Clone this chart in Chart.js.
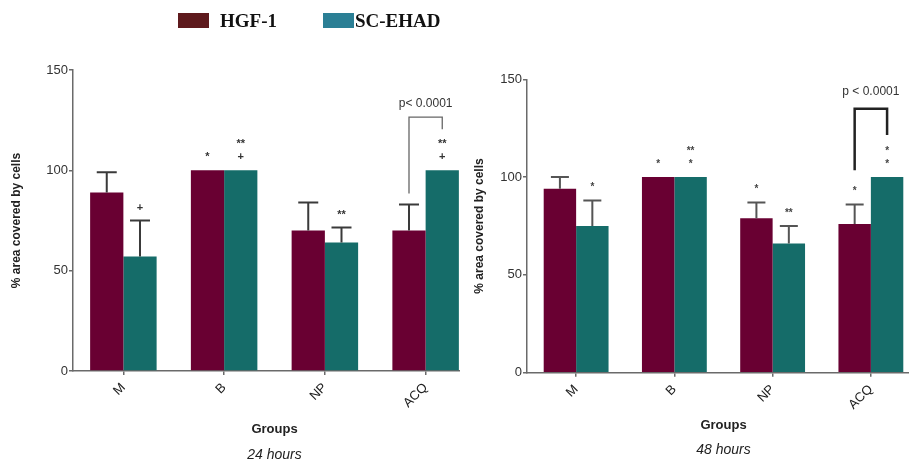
<!DOCTYPE html>
<html>
<head>
<meta charset="utf-8">
<script src="https://cdn.jsdelivr.net/npm/chart.js@4"></script>
<style>
  body { margin: 0; width: 909px; height: 465px; overflow: hidden; background: #fff; position: relative; }
  .panel { position: absolute; top: 0; height: 465px; overflow: hidden; }
  #left { left: 0; width: 460px; }
  #right { left: 460px; width: 449px; }
  #legend { position: absolute; top: 0; left: 0; width: 909px; height: 40px; z-index: 2; font: bold 19px/19px "Liberation Serif", "Times New Roman", serif; color: #111; }
  .box { position: absolute; top: 13px; width: 31px; height: 15px; }
  .lbl { position: absolute; top: 11px; }
</style>
</head>
<body>
<div id="legend"></div>
<div class="panel" id="left"><canvas id="chart24" width="476" height="465"></canvas></div>
<div class="panel" id="right"><canvas id="chart48" width="460" height="465"></canvas></div>
<script>
// データ
const groups = ['M', 'B', 'NP', 'ACQ'];
const seriesNames = ['HGF-1', 'SC-EHAD'];

const hgf24 = [89, 100, 70, 70];
const hgf24Err = [10, 0, 14, 13];
const sc24 = [57, 100, 64, 100];
const sc24Err = [18, 0, 7.5, 0];
const hgf24Marks = [[], ['*'], [], []];
const sc24Marks = [['+'], ['**', '+'], ['**'], ['**', '+']];
const sig24 = { category: 'ACQ', label: 'p< 0.0001', top: 126.5, legs: [88.5, 120.5] };

const hgf48 = [94, 100, 79, 76];
const hgf48Err = [6, 0, 8, 10];
const sc48 = [75, 100, 66, 100];
const sc48Err = [13, 0, 9, 0];
const hgf48Marks = [[], ['*'], ['*'], ['*']];
const sc48Marks = [['*'], ['**', '*'], ['**'], ['*', '*']];
const sig48 = { category: 'ACQ', label: 'p < 0.0001', top: 135, legs: [103.5, 121.5] };

const yTicks = [0, 50, 100, 150];

const barColors = ['#690032', '#156c69'];
const legendColors = ['#5e1a1d', '#2b7f95'];

// 凡例
const legend = document.getElementById('legend');
const legendPos = [[178, 220], [323, 355]];
seriesNames.forEach((name, i) => {
    const box = document.createElement('div');
    box.className = 'box';
    box.style.left = legendPos[i][0] + 'px';
    box.style.background = legendColors[i];
    legend.appendChild(box);
    const lbl = document.createElement('div');
    lbl.className = 'lbl';
    lbl.style.left = legendPos[i][1] + 'px';
    lbl.textContent = name;
    legend.appendChild(lbl);
});

// エラーバー・有意差マーク・ブラケット・時間ラベル
function extrasPlugin(errs, marks, sig, hours, look) {
    return {
        id: 'extras',
        afterDatasetsDraw(chart) {
            const ctx = chart.ctx;
            const y = chart.scales.y;
            ctx.save();
            chart.data.datasets.forEach((ds, d) => {
                chart.getDatasetMeta(d).data.forEach((bar, i) => {
                    let top = bar.y;
                    if (errs[d][i] > 0) {
                        const ey = y.getPixelForValue(ds.data[i] + errs[d][i]);
                        ctx.strokeStyle = look.errColor;
                        ctx.lineWidth = 2;
                        ctx.beginPath();
                        ctx.moveTo(bar.x, bar.y);
                        ctx.lineTo(bar.x, ey);
                        ctx.moveTo(bar.x - look.cap, ey);
                        ctx.lineTo(bar.x + look.cap, ey);
                        ctx.stroke();
                        top = ey;
                    }
                    ctx.fillStyle = look.markColor;
                    ctx.font = look.markFont;
                    ctx.textAlign = 'center';
                    ctx.textBaseline = 'middle';
                    const lines = marks[d][i];
                    lines.forEach((t, k) => {
                        ctx.fillText(t, bar.x, top - 13 - (lines.length - 1 - k) * 13);
                    });
                });
            });

            const ci = chart.data.labels.indexOf(sig.category);
            const b0 = chart.getDatasetMeta(0).data[ci];
            const b1 = chart.getDatasetMeta(1).data[ci];
            const yt = y.getPixelForValue(sig.top);
            ctx.strokeStyle = look.bracketColor;
            ctx.lineWidth = look.bracketWidth;
            ctx.beginPath();
            ctx.moveTo(b0.x, y.getPixelForValue(sig.legs[0]));
            ctx.lineTo(b0.x, yt);
            ctx.lineTo(b1.x, yt);
            ctx.lineTo(b1.x, y.getPixelForValue(sig.legs[1]));
            ctx.stroke();
            ctx.fillStyle = '#333';
            ctx.font = '12px "Liberation Sans", Arial, sans-serif';
            ctx.fillText(sig.label, (b0.x + b1.x) / 2, yt - look.labelGap);

            // 時間ラベル（プロット領域の中央）
            const area = chart.chartArea;
            ctx.fillStyle = '#222';
            ctx.font = 'italic 14px "Liberation Sans", Arial, sans-serif';
            ctx.fillText(hours, (area.left + area.right) / 2, look.hoursY);
            ctx.restore();
        }
    };
}

function makeChart(id, hgf, hgfErr, sc, scErr, hgfMarks, scMarks, sig, hours, look) {
    const ctx = document.getElementById(id).getContext('2d');
    const axisFont = { family: '"Liberation Sans", Arial, sans-serif', size: 13 };
    return new Chart(ctx, {
        type: 'bar',
        data: {
            labels: groups,
            datasets: [
                { label: seriesNames[0], data: hgf, backgroundColor: barColors[0], categoryPercentage: 0.66, barPercentage: 1 },
                { label: seriesNames[1], data: sc, backgroundColor: barColors[1], categoryPercentage: 0.66, barPercentage: 1 }
            ]
        },
        options: {
            responsive: false,
            animation: false,
            layout: { padding: { top: look.top, left: 0, right: 0, bottom: 0 } },
            plugins: {
                legend: { display: false },
                tooltip: { enabled: false }
            },
            scales: {
                x: {
                    grid: { drawOnChartArea: false, offset: false, tickLength: 4, color: look.axisColor, lineWidth: 1.5 },
                    border: { color: look.axisColor, width: 1.5 },
                    ticks: { minRotation: 45, maxRotation: 45, padding: 5, color: '#222', font: axisFont },
                    title: {
                        display: true,
                        text: 'Groups',
                        color: '#222',
                        font: { family: axisFont.family, size: 13, weight: 'bold' },
                        padding: { top: 0, bottom: look.groupsPad }
                    },
                    afterFit: (scale) => { scale.height = look.xHeight; }
                },
                y: {
                    min: 0,
                    max: 150,
                    afterBuildTicks: (scale) => { scale.ticks = yTicks.map(v => ({ value: v })); },
                    grid: { drawOnChartArea: false, tickLength: 4, color: look.axisColor, lineWidth: 1.5 },
                    border: { color: look.axisColor, width: 1.5 },
                    ticks: { padding: 1, color: '#333', font: axisFont },
                    title: {
                        display: true,
                        text: '% area covered by cells',
                        color: '#222',
                        font: { family: axisFont.family, size: 12, weight: 'bold' },
                        padding: { top: look.yTitlePad, bottom: 0 }
                    },
                    afterFit: (scale) => { scale.width = look.yWidth; }
                }
            }
        },
        plugins: [extrasPlugin([hgfErr, scErr], [hgfMarks, scMarks], sig, hours, look)]
    });
}

makeChart('chart24', hgf24, hgf24Err, sc24, sc24Err, hgf24Marks, sc24Marks, sig24, '24 hours', {
    top: 70, yWidth: 73, xHeight: 94, groupsPad: 28.2, yTitlePad: 9.8, hoursY: 455,
    axisColor: '#6a6a6a', errColor: '#3a3a3a', cap: 10, markColor: '#333',
    markFont: 'bold 11px "Liberation Sans", Arial, sans-serif',
    bracketColor: '#666', bracketWidth: 1.3, labelGap: 13
});

makeChart('chart48', hgf48, hgf48Err, sc48, sc48Err, hgf48Marks, sc48Marks, sig48, '48 hours', {
    top: 79.3, yWidth: 67, xHeight: 92.3, groupsPad: 32.2, yTitlePad: 12.8, hoursY: 450,
    axisColor: '#6a6a6a', errColor: '#555', cap: 9, markColor: '#444',
    markFont: 'bold 10px "Liberation Sans", Arial, sans-serif',
    bracketColor: '#222', bracketWidth: 2.5, labelGap: 17
});
</script>
</body>
</html>
